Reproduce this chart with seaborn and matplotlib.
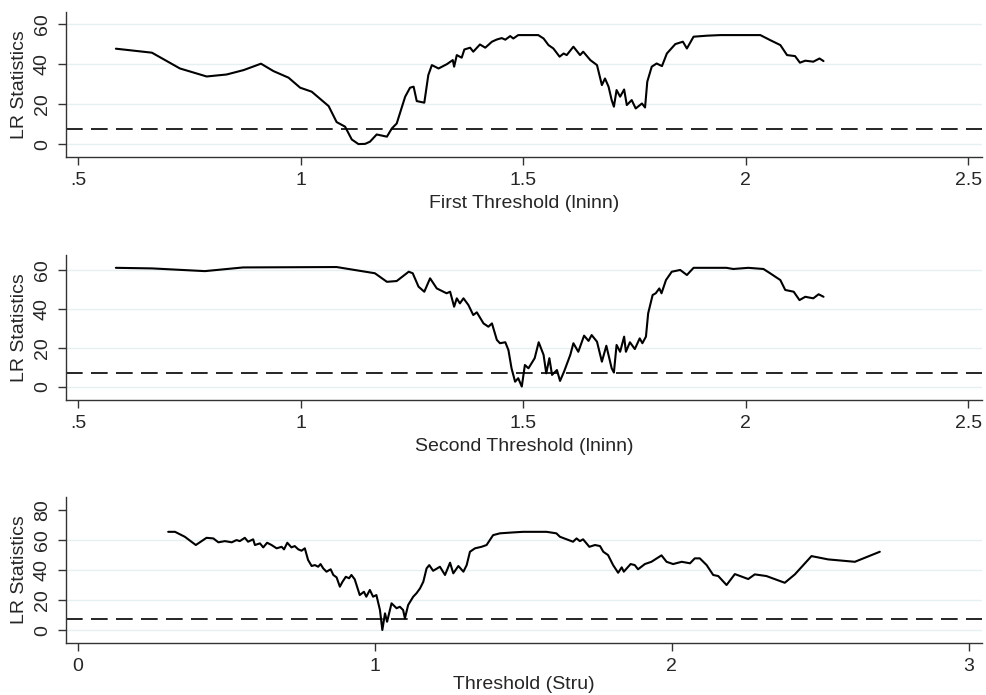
import matplotlib
matplotlib.use("Agg")
import matplotlib.pyplot as plt
import seaborn as sns

# LR statistic curves
first_x = [0.585, 0.666, 0.729, 0.789, 0.834, 0.872, 0.911, 0.939, 0.973, 0.999,
           1.025, 1.063, 1.081, 1.100, 1.115, 1.130, 1.145, 1.156, 1.171, 1.194,
           1.205, 1.216, 1.235, 1.246, 1.254, 1.261, 1.278, 1.287, 1.295, 1.310,
           1.329, 1.342, 1.345, 1.351, 1.362, 1.368, 1.381, 1.388, 1.403, 1.415,
           1.430, 1.441, 1.452, 1.460, 1.471, 1.478, 1.489, 1.508, 1.534, 1.546,
           1.557, 1.568, 1.582, 1.591, 1.598, 1.613, 1.628, 1.635, 1.651, 1.666,
           1.677, 1.684, 1.692, 1.699, 1.704, 1.710, 1.718, 1.727, 1.733, 1.744,
           1.753, 1.767, 1.774, 1.779, 1.789, 1.800, 1.812, 1.823, 1.842, 1.859,
           1.868, 1.883, 1.913, 1.943, 2.033, 2.055, 2.078, 2.093, 2.111, 2.122,
           2.134, 2.152, 2.166, 2.175]
first_lr = [47.7, 45.7, 37.8, 33.8, 34.8, 37.0, 40.2, 36.5, 33.2, 28.2,
            26.2, 19.0, 11.0, 8.7, 2.3, 0.0, 0.1, 1.2, 4.8, 3.7,
            7.8, 10.3, 23.7, 28.2, 28.7, 21.5, 20.7, 34.5, 39.5, 37.8,
            40.0, 42.0, 38.7, 44.5, 43.2, 47.3, 48.2, 46.2, 49.8, 48.2,
            51.2, 52.3, 53.0, 52.2, 54.0, 52.8, 54.5, 54.5, 54.5, 52.8,
            49.5, 47.8, 43.7, 45.3, 44.5, 48.7, 44.5, 46.2, 42.0, 39.5,
            29.5, 32.8, 28.7, 22.0, 18.7, 27.0, 23.7, 27.3, 19.5, 22.0,
            17.8, 20.3, 18.3, 31.2, 38.7, 40.3, 39.0, 45.3, 50.0, 51.2,
            47.8, 53.7, 54.2, 54.5, 54.5, 52.0, 49.5, 44.5, 44.0, 40.7,
            41.7, 41.2, 42.8, 41.5]

second_x = [0.585, 0.666, 0.785, 0.871, 1.081, 1.167, 1.194, 1.216, 1.243, 1.252,
            1.265, 1.278, 1.291, 1.306, 1.328, 1.336, 1.345, 1.351, 1.358, 1.366,
            1.377, 1.388, 1.396, 1.411, 1.422, 1.430, 1.441, 1.448, 1.460, 1.467,
            1.474, 1.482, 1.489, 1.497, 1.504, 1.512, 1.519, 1.526, 1.535, 1.546,
            1.552, 1.559, 1.565, 1.576, 1.583, 1.592, 1.606, 1.613, 1.624, 1.637,
            1.647, 1.654, 1.666, 1.677, 1.687, 1.699, 1.704, 1.710, 1.718, 1.727,
            1.731, 1.740, 1.751, 1.762, 1.768, 1.776, 1.781, 1.791, 1.798, 1.806,
            1.811, 1.821, 1.834, 1.853, 1.868, 1.883, 1.957, 1.972, 2.006, 2.040,
            2.055, 2.078, 2.089, 2.108, 2.121, 2.134, 2.152, 2.164, 2.175]
second_lr = [61.3, 61.0, 59.6, 61.5, 61.7, 58.5, 54.1, 54.5, 59.3, 58.5,
             51.6, 49.0, 55.9, 50.7, 48.2, 49.0, 41.3, 45.6, 43.0, 45.6,
             42.2, 37.0, 38.4, 32.7, 31.0, 32.7, 24.2, 22.5, 23.0, 19.0,
             9.6, 2.7, 4.5, 0.2, 11.3, 9.6, 12.2, 14.8, 23.0, 16.5,
             7.0, 14.8, 6.2, 8.7, 3.1, 7.9, 16.5, 22.5, 18.1, 26.4,
             23.7, 26.7, 23.3, 13.0, 21.2, 9.6, 7.4, 21.6, 18.1, 25.9,
             18.1, 23.0, 19.5, 25.0, 22.5, 25.9, 37.9, 47.3, 48.2, 50.7,
             48.2, 55.0, 59.3, 60.2, 57.6, 61.3, 61.3, 60.7, 61.3, 60.7,
             58.5, 55.0, 49.9, 49.0, 44.7, 46.4, 45.6, 47.7, 46.4]

stru_x = [0.304, 0.327, 0.360, 0.397, 0.433, 0.456, 0.473, 0.495, 0.518, 0.534,
          0.545, 0.562, 0.573, 0.590, 0.596, 0.613, 0.624, 0.637, 0.652, 0.669,
          0.686, 0.694, 0.705, 0.719, 0.730, 0.742, 0.753, 0.764, 0.775, 0.787,
          0.798, 0.809, 0.817, 0.826, 0.837, 0.851, 0.860, 0.871, 0.882, 0.891,
          0.902, 0.913, 0.921, 0.932, 0.949, 0.963, 0.971, 0.983, 0.994, 1.005,
          1.017, 1.025, 1.034, 1.041, 1.056, 1.073, 1.084, 1.095, 1.101, 1.112,
          1.129, 1.140, 1.152, 1.163, 1.174, 1.183, 1.196, 1.219, 1.236, 1.253,
          1.264, 1.281, 1.298, 1.309, 1.320, 1.337, 1.359, 1.376, 1.398, 1.421,
          1.465, 1.499, 1.578, 1.611, 1.623, 1.667, 1.679, 1.690, 1.701, 1.722,
          1.741, 1.758, 1.769, 1.785, 1.802, 1.819, 1.831, 1.838, 1.861, 1.875,
          1.886, 1.909, 1.931, 1.965, 1.982, 2.004, 2.033, 2.061, 2.077, 2.094,
          2.117, 2.139, 2.156, 2.184, 2.212, 2.257, 2.279, 2.318, 2.380, 2.414,
          2.470, 2.526, 2.616, 2.700]
stru_lr = [65.7, 65.7, 62.4, 56.9, 61.7, 61.3, 58.7, 59.5, 58.7, 60.2,
           59.5, 61.7, 59.1, 60.7, 56.9, 58.0, 55.3, 58.4, 56.9, 54.7,
           55.7, 54.0, 58.4, 55.3, 56.2, 54.0, 53.1, 54.7, 46.9, 42.9,
           43.5, 42.4, 44.2, 41.3, 39.1, 40.7, 36.9, 35.3, 29.1, 32.4,
           35.7, 34.7, 36.9, 34.0, 23.5, 25.7, 22.4, 26.9, 22.4, 23.5,
           13.5, 0.2, 11.3, 5.7, 18.0, 14.7, 15.7, 13.5, 8.0, 16.9,
           22.4, 24.7, 28.0, 32.4, 41.3, 43.5, 39.7, 42.4, 36.9, 45.1,
           38.0, 42.9, 39.1, 43.5, 52.4, 54.7, 55.7, 56.9, 63.5, 64.7,
           65.3, 65.7, 65.7, 64.7, 62.4, 59.1, 61.3, 59.5, 60.7, 55.7,
           56.9, 56.2, 52.4, 50.2, 43.5, 38.4, 42.0, 39.1, 44.2, 43.5,
           40.7, 44.2, 45.7, 50.0, 45.7, 44.2, 45.7, 44.7, 48.0, 48.0,
           43.5, 36.9, 36.2, 30.2, 37.5, 34.2, 37.3, 36.2, 31.7, 37.3,
           49.5, 47.3, 45.7, 52.4]

critical_value = 7.35

lninn_ticks = [0.5, 1, 1.5, 2, 2.5]
lninn_labels = [".5", "1", "1.5", "2", "2.5"]
stru_ticks = [0, 1, 2, 3]
stru_labels = ["0", "1", "2", "3"]

sns.set_theme(style="white")
plt.rcParams['font.family'] = ['Liberation Sans', 'DejaVu Sans']
plt.rcParams['text.color'] = 'black'

fig = plt.figure(figsize=(9.87, 6.95), dpi=100)

panels = [
    dict(rect=[0.0669, 0.774, 0.928, 0.2086], x=first_x, y=first_lr,
         xlim=(0.473, 2.531), ylim=(-6.5, 66), xticks=lninn_ticks, xlabels=lninn_labels,
         yticks=[0, 20, 40, 60], xlabel="First Threshold (lninn)", xpad=4),
    dict(rect=[0.0669, 0.4245, 0.928, 0.2086], x=second_x, y=second_lr,
         xlim=(0.473, 2.531), ylim=(-6.7, 67.9), xticks=lninn_ticks, xlabels=lninn_labels,
         yticks=[0, 20, 40, 60], xlabel="Second Threshold (lninn)", xpad=4),
    dict(rect=[0.0669, 0.0748, 0.928, 0.21], x=stru_x, y=stru_lr,
         xlim=(-0.04, 3.044), ylim=(-8.5, 88.9), xticks=stru_ticks, xlabels=stru_labels,
         yticks=[0, 20, 40, 60, 80], xlabel="Threshold (Stru)", xpad=0.5),
]

fs = 14

for p in panels:
    ax = fig.add_axes(p["rect"])
    ax.set_ylim(*p["ylim"])
    ax.set_xlim(*p["xlim"])
    ax.set_yticks(p["yticks"])
    ax.yaxis.grid(True, color="#E6F0F2", lw=1.0)
    ax.set_axisbelow(True)
    if p["yticks"][-1] == 80:
        ax.get_ygridlines()[-1].set_visible(False)
    sns.lineplot(x=p["x"], y=p["y"], ax=ax, color="black", lw=1.5,
                 estimator=None, sort=False)
    ax.axhline(critical_value, color="black", lw=1.2, linestyle=(0, (10, 5)))
    ax.set_xticks(p["xticks"])
    ax.set_xticklabels(p["xlabels"])
    ax.set_xlabel(p["xlabel"], fontsize=fs, labelpad=p["xpad"])
    ax.set_ylabel("LR Statistics", fontsize=fs, labelpad=4)
    ax.tick_params(axis="both", labelsize=fs, length=6, width=1, color="#333333",
                   direction="out", pad=5, bottom=True, left=True)
    ax.tick_params(axis="y", labelrotation=90, pad=5)
    for lab in ax.get_yticklabels():
        lab.set_va("center")
    for side in ["top", "right"]:
        ax.spines[side].set_visible(False)
    for side in ["left", "bottom"]:
        ax.spines[side].set_color("#333333")
        ax.spines[side].set_linewidth(1.0)

fig.savefig("out.png", dpi=100)
